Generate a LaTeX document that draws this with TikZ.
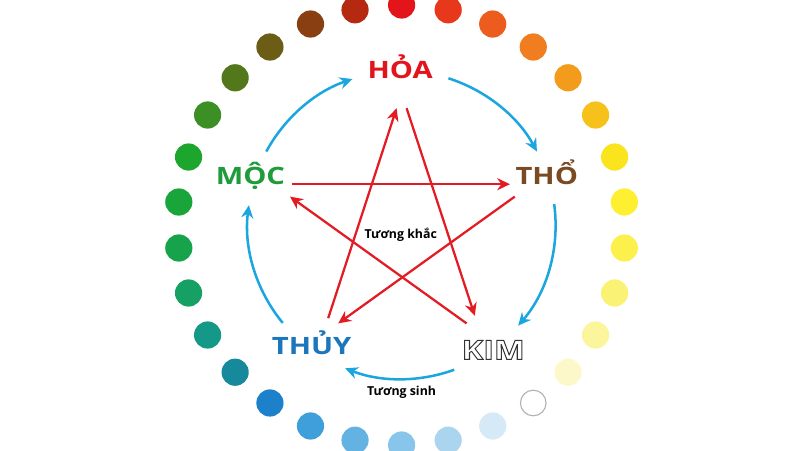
\documentclass[tikz,border=0pt]{standalone}
\usepackage{fontspec}
\setmainfont{Open Sans}
\usepackage{graphicx}
\usetikzlibrary{arrows.meta}
\definecolor{hoared}{HTML}{E2151D}
\definecolor{mocgreen}{HTML}{1E9B3A}
\definecolor{thobrown}{HTML}{7A4A22}
\definecolor{thuyblue}{HTML}{1C76BC}
\definecolor{sinhblue}{HTML}{1CA6E0}
\definecolor{khacred}{HTML}{E31B23}
\newcommand\wide[1]{\scalebox{1.22}[1]{#1}}
\newcommand\outlined[1]{\special{pdf:literal direct 1 Tr 0.6 w}#1\special{pdf:literal direct 0 Tr}}
\tikzset{
  elem/.style={anchor=base,font=\bfseries\fontsize{17}{17}\selectfont,inner sep=0pt},
  sinh/.style={sinhblue,line width=1.8pt,-{Stealth[length=0.32cm,width=0.3cm]}},
  khac/.style={khacred,line width=1.6pt,-{Stealth[length=0.32cm,width=0.3cm]}},
  note/.style={font=\bfseries\fontsize{8.8}{9}\selectfont,inner sep=1pt}
}

\begin{document}
\begin{tikzpicture}

\useasboundingbox (-10.04,-5.625) rectangle (9.96,5.625);

\foreach \a/\c in {90/E3151B,78/E8381C,66/EC5C1F,54/F07D1F,42/F39C1B,30/F7C11B,
  18/FAE41D,6/FEEF30,-6/FCF14C,-18/FAF272,-30/FBF59C,-42/FCF8C9,
  -66/D5E9F7,-78/ABD5EF,-90/88C5EA,-102/63B2E2,-114/3E9FDB,-126/1C80CA,
  -138/168A9C,-150/149887,-162/16A063,-174/17A34B,174/1AA53B,162/1DA62E,
  150/3B8F25,138/53771B,126/6B5D16,114/8A3F12,102/B52911}
{
  \definecolor{dotcolor}{HTML}{\c}
  \fill[dotcolor] (\a:5.6cm and 5.5cm) circle (0.34);
}
\draw[gray!60,line width=0.8pt] (-54:5.6cm and 5.5cm) circle (0.32);

\node[elem,hoared] (hoa) at (-0.035,3.66) {\wide{HỎA}};
\node[elem,thobrown] (tho) at (3.63,1.01) {\wide{THỔ}};
\node[elem,black!80,font=\bfseries\fontsize{19}{19}\selectfont] (kim) at (2.29,-3.36) {\wide{\outlined{KIM}}};
\node[elem,thuyblue] (thuy) at (-2.25,-3.235) {\wide{THỦY}};
\node[elem,mocgreen] (moc) at (-3.78,1.02) {\wide{MỘC}};

\draw[sinh] (151.5:3.85) arc(151.5:108.6:3.85);
\draw[sinh] (72.3:3.85) arc(72.3:28.5:3.85);
\draw[sinh] (7.8:3.85) arc(7.8:-40.8:3.85);
\draw[sinh] (-70:3.85) arc(-70:-111.5:3.85);
\draw[sinh] (-140.5:3.85) arc(-140.5:-187.4:3.85);

\coordinate (mocA) at (-2.75,1.02);
\coordinate (thoB) at (2.71,1.02);
\coordinate (thoA) at (2.83,0.71);
\coordinate (thuyB) at (-1.585,-2.46);
\coordinate (thuyA) at (-1.835,-2.33);
\coordinate (hoaB) at (-0.125,2.92);
\coordinate (hoaA) at (0.125,2.92);
\coordinate (kimB) at (1.83,-2.27);
\coordinate (kimA) at (1.625,-2.46);
\coordinate (mocB) at (-2.79,0.71);

\draw[khac] (mocA)--(thoB);
\draw[khac] (thoA)--(thuyB);
\draw[khac] (thuyA)--(hoaB);
\draw[khac] (hoaA)--(kimB);
\draw[khac] (kimA)--(mocB);

\node[note] (khac) at (-0.02,-0.25) {Tương khắc};
\node[note] (sinh) at (0,-4.17) {Tương sinh};

\end{tikzpicture}
\end{document}
